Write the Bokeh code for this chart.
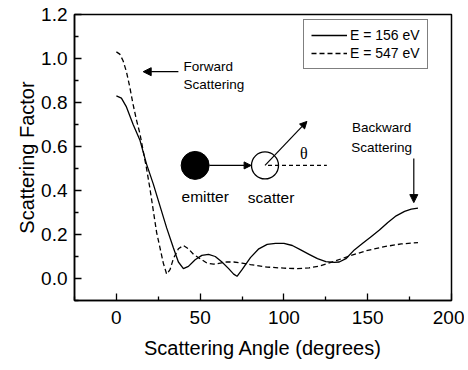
from bokeh.plotting import figure
from bokeh.models import (Range1d, FixedTicker, NumeralTickFormatter, Legend, LegendItem,
                          Arrow, NormalHead, ColumnDataSource)
from bokeh.core.properties import value
from bokeh.embed import file_html
from bokeh.resources import INLINE

# ---- data ----
angle_156 = [0, 3, 6, 10, 14, 18, 22, 26, 30, 34, 37, 40, 43, 47, 51, 55, 59, 63, 67, 70,
             72, 75, 80, 85, 90, 95, 100, 105, 110, 115, 120, 125, 130, 133, 137, 142, 147,
             152, 157, 162, 167, 172, 176, 180]
factor_156 = [0.83, 0.82, 0.78, 0.70, 0.63, 0.52, 0.43, 0.33, 0.23, 0.14, 0.075, 0.045, 0.055,
              0.085, 0.105, 0.11, 0.10, 0.075, 0.045, 0.02, 0.01, 0.04, 0.095, 0.135, 0.155,
              0.16, 0.16, 0.15, 0.13, 0.11, 0.09, 0.077, 0.073, 0.075, 0.09, 0.13, 0.16, 0.19,
              0.22, 0.255, 0.285, 0.305, 0.315, 0.32]

angle_547 = [0, 2, 4, 6, 8, 10, 12, 14, 16, 18, 20, 22, 24, 26, 28, 30, 32, 34, 37, 40, 43,
             46, 50, 54, 58, 62, 66, 70, 75, 80, 90, 100, 108, 115, 122, 130, 140, 150, 160,
             170, 180]
factor_547 = [1.03, 1.02, 0.99, 0.94, 0.87, 0.79, 0.72, 0.66, 0.58, 0.50, 0.41, 0.31, 0.21,
              0.14, 0.07, 0.02, 0.04, 0.09, 0.135, 0.15, 0.135, 0.11, 0.09, 0.07, 0.065, 0.07,
              0.075, 0.075, 0.07, 0.063, 0.052, 0.047, 0.045, 0.048, 0.058, 0.078, 0.105,
              0.128, 0.145, 0.157, 0.163]

x_ticks = [0, 50, 100, 150, 200]
x_minor = [-25, 25, 75, 125, 175]
y_ticks = [0.0, 0.2, 0.4, 0.6, 0.8, 1.0, 1.2]
y_minor = [-0.1, 0.1, 0.3, 0.5, 0.7, 0.9, 1.1]

series_labels = ["E = 156 eV", "E = 547 eV"]

FONT = "Liberation Sans"

p = figure(width=464, height=368,
           x_range=Range1d(-25, 200), y_range=Range1d(-0.1, 1.2),
           output_backend="svg", toolbar_location=None,
           min_border_left=74, min_border_right=13,
           min_border_top=14, min_border_bottom=68)
p.grid.visible = False
p.background_fill_color = "white"
p.border_fill_color = "white"
p.outline_line_color = "black"
p.outline_line_width = 1.5
p.outline_line_alpha = 1.0

for ax in (p.xaxis[0], p.yaxis[0]):
    ax.axis_line_width = 1.5
    ax.axis_line_color = "black"
    ax.major_tick_in = 7
    ax.major_tick_out = 0
    ax.minor_tick_in = 4
    ax.minor_tick_out = 0
    ax.major_tick_line_width = 1.3
    ax.minor_tick_line_width = 1.3
    ax.major_label_text_font = FONT
    ax.major_label_text_font_size = "19px"
    ax.major_label_text_color = "black"
    ax.axis_label_text_font = FONT
    ax.axis_label_text_font_size = "20px"
    ax.axis_label_text_font_style = "normal"
    ax.axis_label_text_color = "black"

p.xaxis.ticker = FixedTicker(ticks=x_ticks, minor_ticks=x_minor)
p.yaxis.ticker = FixedTicker(ticks=y_ticks, minor_ticks=y_minor)
p.yaxis.formatter = NumeralTickFormatter(format="0.0")
p.xaxis.axis_label = "Scattering Angle (degrees)"
p.yaxis.axis_label = "Scattering Factor"
p.xaxis.major_label_standoff = 10
p.yaxis.major_label_standoff = 7
p.xaxis.axis_label_standoff = 10
p.yaxis.axis_label_standoff = 0

src156 = ColumnDataSource(dict(x=angle_156, y=factor_156))
src547 = ColumnDataSource(dict(x=angle_547, y=factor_547))
r1 = p.line("x", "y", source=src156, line_color="black", line_width=1.3)
r2 = p.line("x", "y", source=src547, line_color="black", line_width=1.3, line_dash="5 3")

legend = Legend(items=[LegendItem(label=series_labels[0], renderers=[r1]),
                       LegendItem(label=series_labels[1], renderers=[r2])],
                location=(229, 231), orientation="vertical")
legend.border_line_color = "black"
legend.border_line_width = 1.2
legend.background_fill_color = "white"
legend.background_fill_alpha = 1.0
legend.label_text_font = FONT
legend.label_text_font_size = "14px"
legend.label_text_color = "black"
legend.glyph_width = 36
legend.glyph_height = 16
legend.label_height = 16
legend.label_standoff = 3
legend.spacing = 2
legend.padding = 7
legend.margin = 0
p.add_layout(legend)

# ---- annotations ----
ann_font = value(FONT)
p.text(x=[40, 40], y=[0.964, 0.882], text=["Forward", "Scattering"],
       text_font=ann_font, text_font_size="13.5px", text_baseline="middle",
       text_align="left", text_color="black")
p.add_layout(Arrow(end=NormalHead(size=8, fill_color="black", line_color="black"),
                   x_start=37, y_start=0.94, x_end=16, y_end=0.94,
                   line_color="black", line_width=1.2))

p.text(x=[158.3, 158.3], y=[0.686, 0.595], text=["Backward", "Scattering"],
       text_font=ann_font, text_font_size="13.5px", text_baseline="middle",
       text_align="center", text_color="black")
p.add_layout(Arrow(end=NormalHead(size=8, fill_color="black", line_color="black"),
                   x_start=177.5, y_start=0.545, x_end=177.5, y_end=0.345,
                   line_color="black", line_width=1.2))

# emitter / scatter sketch
p.scatter(x=[47.0], y=[0.514], size=28, marker="circle",
          fill_color="black", line_color="black")
p.scatter(x=[88.7], y=[0.514], size=27, marker="circle",
          fill_color=None, line_color="black", line_width=1.3)
p.add_layout(Arrow(end=NormalHead(size=7, fill_color="black", line_color="black"),
                   x_start=55.5, y_start=0.514, x_end=80.4, y_end=0.514,
                   line_color="black", line_width=1.2))
p.add_layout(Arrow(end=NormalHead(size=7, fill_color="black", line_color="black"),
                   x_start=88.7, y_start=0.514, x_end=113.7, y_end=0.714,
                   line_color="black", line_width=1.2))
p.line(x=[90.5, 125.6], y=[0.514, 0.514], line_color="black", line_width=1.2,
       line_dash="4 3")
p.text(x=[111.9], y=[0.568], text=["θ"], text_font=value("Liberation Serif"),
       text_font_size="16px", text_baseline="middle", text_align="center",
       text_color="black")
p.text(x=[53.0, 92.3], y=[0.373, 0.368], text=["emitter", "scatter"],
       text_font=ann_font, text_font_size="15.5px", text_baseline="middle",
       text_align="center", text_color="black")

open("out.html", "w").write(file_html(p, INLINE))
